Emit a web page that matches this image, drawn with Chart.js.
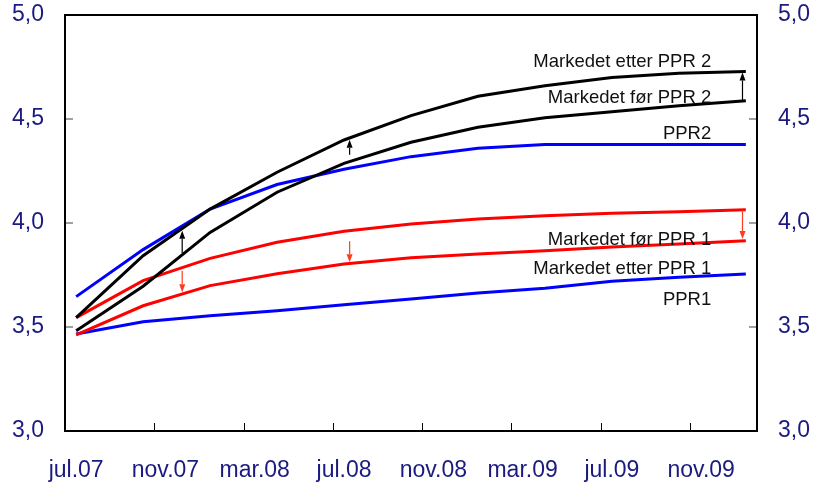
<!DOCTYPE html>
<html>
<head>
<meta charset="utf-8">
<script src="https://cdn.jsdelivr.net/npm/chart.js@4/dist/chart.umd.min.js"></script>
<style>
  html, body { margin: 0; padding: 0; background: #fff; }
</style>
</head>
<body>
<canvas id="chart" width="815" height="488"></canvas>
<script>
'use strict';
// quarterly points, plotted mid-month
const quarters = ['2007-07','2007-10','2008-01','2008-04','2008-07','2008-10','2009-01','2009-04','2009-07','2009-10','2010-01'];
const etterPPR2 = [3.545, 3.843, 4.067, 4.244, 4.399, 4.516, 4.609, 4.660, 4.700, 4.720, 4.728];
const forPPR2   = [3.482, 3.696, 3.955, 4.148, 4.287, 4.388, 4.460, 4.506, 4.535, 4.564, 4.588];
const ppr2      = [3.646, 3.872, 4.067, 4.185, 4.258, 4.319, 4.359, 4.377, 4.377, 4.377, 4.377];
const forPPR1   = [3.545, 3.723, 3.830, 3.907, 3.960, 3.995, 4.019, 4.035, 4.047, 4.054, 4.064];
const etterPPR1 = [3.462, 3.602, 3.699, 3.756, 3.803, 3.833, 3.851, 3.867, 3.885, 3.899, 3.915];
const ppr1      = [3.466, 3.525, 3.554, 3.578, 3.607, 3.635, 3.663, 3.686, 3.720, 3.739, 3.755];

const tickLabels = ['jul.07','nov.07','mar.08','jul.08','nov.08','mar.09','jul.09','nov.09'];
const yTicks = [3.0, 3.5, 4.0, 4.5, 5.0];

// arrows: [months after jul.07, from, to]
const arrowsPPR2 = [[5.25, 3.856, 3.963], [12.75, 4.328, 4.400], [30.35, 4.588, 4.724]];
const arrowsPPR1 = [[5.25, 3.769, 3.667], [12.75, 3.912, 3.811], [30.35, 4.062, 3.923]];

const noteText  = ['Markedet etter PPR 2','Markedet før PPR 2','PPR2','Markedet før PPR 1','Markedet etter PPR 1','PPR1'];
const noteLevel = [4.751, 4.575, 4.404, 3.894, 3.753, 3.606];

const NAVY = '#1a1a80';
const FONT = '"Liberation Sans", Arial, sans-serif';

function toMonth(q) {
  const [yr, mo] = q.split('-').map(Number);
  return (yr - 2007) * 12 + (mo - 7) + 0.5;
}
const pts = arr => arr.map((v, i) => ({ x: toMonth(quarters[i]), y: v }));
function series(label, data, color) {
  return { label, data: pts(data), borderColor: color, borderWidth: 3, pointRadius: 0, tension: 0, fill: false, yAxisID: 'y' };
}

const decor = {
  id: 'decor',
  afterDatasetsDraw(chart) {
    const { ctx, chartArea: a, scales: { x, y } } = chart;
    const seg = (x1, y1, x2, y2) => { ctx.beginPath(); ctx.moveTo(x1, y1); ctx.lineTo(x2, y2); ctx.stroke(); };
    ctx.save();
    // inward tick marks
    ctx.strokeStyle = '#808080'; ctx.lineWidth = 1.5;
    yTicks.slice(1, -1).forEach(v => {
      const py = y.getPixelForValue(v);
      seg(a.left, py, a.left + 8, py);
      seg(a.right - 8, py, a.right, py);
    });
    ctx.strokeStyle = '#000'; ctx.lineWidth = 1;
    for (let m = 4; m < 31; m += 4) {
      const px = Math.round(x.getPixelForValue(m)) + 0.5;
      seg(px, a.bottom, px, a.bottom - 8);
    }
    ctx.lineWidth = 2;
    ctx.strokeRect(a.left, a.top, a.right - a.left, a.bottom - a.top);

    // arrows
    const arrow = (m, from, to, color) => {
      const px = x.getPixelForValue(m), p0 = y.getPixelForValue(from), p1 = y.getPixelForValue(to);
      const dir = p1 < p0 ? -1 : 1, head = 8;
      ctx.strokeStyle = color; ctx.fillStyle = color; ctx.lineWidth = 1.2;
      seg(px, p0, px, p1 - dir * head);
      ctx.beginPath();
      ctx.moveTo(px, p1);
      ctx.lineTo(px - 3, p1 - dir * head);
      ctx.lineTo(px + 3, p1 - dir * head);
      ctx.closePath(); ctx.fill();
    };
    arrowsPPR2.forEach(r => arrow(r[0], r[1], r[2], '#000'));
    arrowsPPR1.forEach(r => arrow(r[0], r[1], r[2], '#ff3b1f'));

    // line labels
    ctx.font = '18.5px ' + FONT; ctx.fillStyle = '#111';
    ctx.textAlign = 'right'; ctx.textBaseline = 'alphabetic';
    const nx = x.getPixelForValue(28.95);
    noteText.forEach((t, i) => ctx.fillText(t, nx, y.getPixelForValue(noteLevel[i])));
    ctx.restore();
  }
};

const yAxis = (pos, width) => ({
  type: 'linear', position: pos, min: 3, max: 5,
  grid: { display: false, drawTicks: false }, border: { display: false },
  afterBuildTicks: s => { s.ticks = yTicks.map(v => ({ value: v })); },
  ticks: { padding: 21, color: NAVY, font: { size: 23, family: FONT },
    callback: v => v.toFixed(1).replace('.', ',') },
  afterFit: s => { s.width = width; s.paddingTop = 0; s.paddingBottom = 0; }
});

new Chart(document.getElementById('chart'), {
  type: 'line',
  data: {
    datasets: [
      series('Markedet etter PPR 2', etterPPR2, '#000'),
      series('Markedet før PPR 2', forPPR2, '#000'),
      series('PPR2', ppr2, '#0000ff'),
      series('Markedet før PPR 1', forPPR1, '#ff0000'),
      series('Markedet etter PPR 1', etterPPR1, '#ff0000'),
      series('PPR1', ppr1, '#0000ff')
    ]
  },
  options: {
    responsive: false, animation: false,
    layout: { padding: { top: 15, left: 0, right: 0, bottom: 0 } },
    plugins: { legend: { display: false }, tooltip: { enabled: false } },
    scales: {
      x: {
        type: 'linear', min: 0, max: 31,
        grid: { display: false, drawTicks: false }, border: { display: false },
        afterBuildTicks: s => { s.ticks = tickLabels.map((_, i) => ({ value: i * 4 + 0.5 })); },
        ticks: { autoSkip: false, maxRotation: 0, padding: 26, color: NAVY, font: { size: 23, family: FONT },
          callback: (v, i) => tickLabels[i] },
        afterFit: s => { s.height = 57; s.paddingLeft = 0; s.paddingRight = 0; }
      },
      y: yAxis('left', 65),
      y2: yAxis('right', 58)
    }
  },
  plugins: [decor]
});
</script>
</body>
</html>
